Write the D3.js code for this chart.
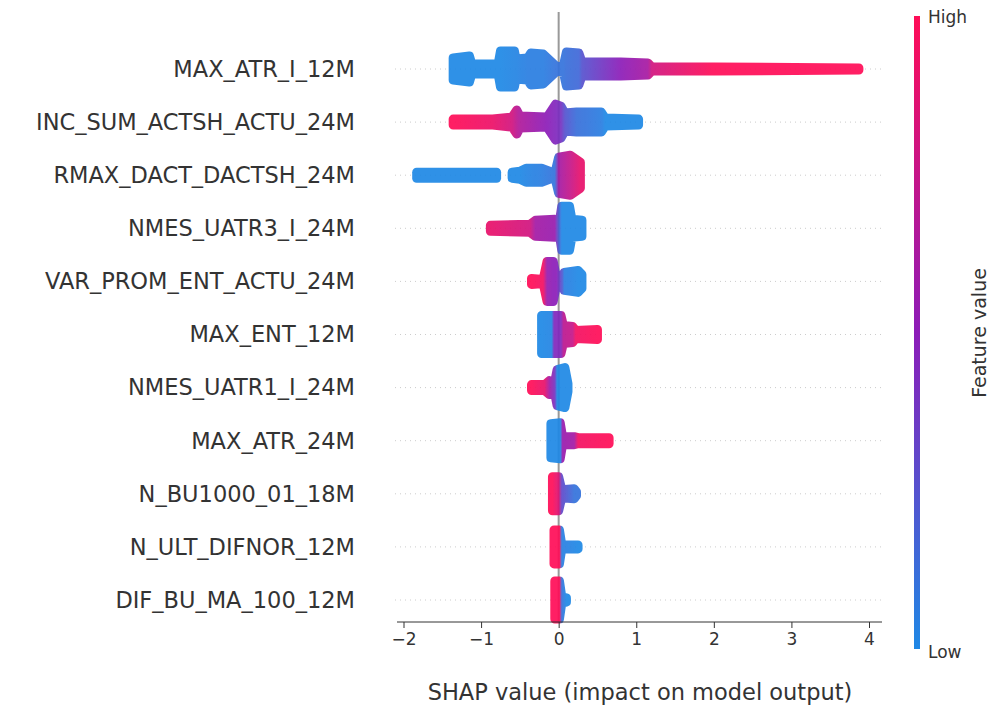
<!DOCTYPE html>
<html><head><meta charset="utf-8">
<script src="https://cdn.jsdelivr.net/npm/d3@7"></script>
<style>body{margin:0;background:#fff;font-family:"DejaVu Sans",sans-serif}</style>
</head><body><div id="chart"></div>
<script>
// features, top to bottom
var features = ["MAX_ATR_I_12M","INC_SUM_ACTSH_ACTU_24M","RMAX_DACT_DACTSH_24M","NMES_UATR3_I_24M",
  "VAR_PROM_ENT_ACTU_24M","MAX_ENT_12M","NMES_UATR1_I_24M","MAX_ATR_24M","N_BU1000_01_18M",
  "N_ULT_DIFNOR_12M","DIF_BU_MA_100_12M"];
// swarm envelopes per feature: pieces of [shap value, spread, feature value 0..1]
var swarms = [
  [[[-1.36,11,0],[-1.15,13,0],[-1.12,5,0],[-0.78,5,0],[-0.75,18,0],[-0.57,18,0.02],[-0.55,10,0.02],[-0.4,11,0.05],[-0.36,16,0.05],[-0.2,15,0.05],[-0.02,2,0.1],
    [0.06,3,0.1],[0.1,17,0.12],[0.26,16,0.15],[0.3,7,0.25],[0.8,7,0.5],[1.15,6,0.62],[1.2,2,0.8],[2.0,2,1],[3.87,1,1]]],
  [[[-1.36,3,1],[-0.85,3,0.92],[-0.6,5,0.8],[-0.54,12,0.7],[-0.5,6,0.65],[-0.15,5,0.5],[-0.04,18,0.45],[0.03,16,0.4],[0.08,9,0.25],[0.23,10,0.12],[0.55,10,0.05],[0.6,4,0],[1.03,3,0]]],
  [[[-1.83,3,0],[-0.8,3,0]],
   [[-0.6,3,0],[-0.5,4,0],[-0.42,7,0.02],[-0.22,7,0.05],[-0.05,2,0.1],[0.0,18,0.6],[0.15,20,0.75],[0.28,13,0.9]]],
  [[[-0.88,3,0.9],[-0.37,4,0.8],[-0.3,8,0.6],[-0.05,9,0.55],[0.0,2,0.2],[0.04,22,0],[0.14,22,0],[0.17,9,0],[0.3,8,0]]],
  [[[-0.35,3,1],[-0.2,2,0.95],[-0.15,20,0.55],[-0.07,20,0.5],[-0.03,4,0.5],[0.05,4,0.2],[0.07,9,0.05],[0.25,11,0],[0.3,7,0]]],
  [[[-0.22,19,0],[-0.09,19,0.02],[-0.06,19,0.45],[0.03,19,0.45],[0.06,9,0.7],[0.18,8,0.75],[0.22,4,0.95],[0.5,5,1]]],
  [[[-0.35,3,1],[-0.18,3,0.9],[-0.12,7,0.6],[-0.05,6,0.4],[-0.02,18,0],[0.08,20,0],[0.12,4,0]]],
  [[[-0.1,17,0],[0.02,18,0],[0.05,4,0.55],[0.2,4,0.6],[0.25,3,0.95],[0.65,3,1]]],
  [[[-0.08,17,1],[0.0,17,0.85],[0.04,4,0.3],[0.2,5,0.1],[0.23,2,0.1]]],
  [[[-0.06,17,1],[0.01,17,1],[0.04,2,0.05],[0.25,2,0]]],
  [[[-0.05,19,1],[0.01,19,1],[0.04,3,0.1],[0.1,2,0]]]
];
var xTicks = [-2,-1,0,1,2,3,4];

var width = 998, height = 725;
var svg = d3.select("#chart").append("svg").attr("width", width).attr("height", height);
var defs = svg.append("defs");

var x = d3.scaleLinear().domain([-2, 4]).range([403.5, 869]);
var y = d3.scalePoint().domain(features).range([69, 600]);
var color = d3.scaleLinear().domain([0, 0.5, 1]).range(["#1e88e5", "#8c1cb8", "#ff0d57"]).interpolate(d3.interpolateRgb);

// grid lines
svg.selectAll("line.grid").data(features).enter().append("line")
  .attr("x1", 395).attr("x2", 882).attr("y1", d => y(d)).attr("y2", d => y(d))
  .attr("stroke", "#ccc").attr("stroke-dasharray", "1,4");

// zero line
svg.append("line").attr("x1", x(0)).attr("x2", x(0)).attr("y1", 12).attr("y2", 622)
  .attr("stroke", "#999").attr("stroke-width", 2);

// swarms
var area = d3.area().curve(d3.curveLinear)
  .x(d => x(d[0])).y0(d => -d[1]).y1(d => d[1]);
var gid = 0;
features.forEach(function (f, i) {
  var g = svg.append("g").attr("transform", "translate(0," + y(f) + ")");
  swarms[i].forEach(function (piece) {
    var id = "grad" + (gid++);
    var x0 = x(piece[0][0]), x1 = x(piece[piece.length - 1][0]);
    var grad = defs.append("linearGradient").attr("id", id)
      .attr("gradientUnits", "userSpaceOnUse").attr("x1", x0).attr("x2", x1).attr("y1", 0).attr("y2", 0);
    grad.selectAll("stop").data(piece).enter().append("stop")
      .attr("offset", d => (x(d[0]) - x0) / (x1 - x0))
      .attr("stop-color", d => color(d[2]));
    g.append("path").attr("d", area(piece))
      .attr("fill", "url(#" + id + ")").attr("stroke", "url(#" + id + ")")
      .attr("stroke-width", 9).attr("stroke-linejoin", "round").attr("opacity", 0.92);
  });
});

// feature labels
svg.selectAll("text.label").data(features).enter().append("text")
  .attr("x", 355).attr("y", d => y(d)).attr("dy", "0.35em")
  .attr("text-anchor", "end").attr("font-size", 22.5).attr("fill", "#333").text(d => d);

// x axis
var axis = svg.append("g").attr("transform", "translate(0,622)")
  .call(d3.axisBottom(x).tickValues(xTicks).tickSize(6).tickPadding(5).tickFormat(d => d < 0 ? "\u2212" + (-d) : d));
axis.select(".domain").attr("d", "M397,0H882").attr("stroke", "#333");
axis.selectAll(".tick line").attr("stroke", "#333");
axis.selectAll(".tick text").attr("font-size", 17).attr("fill", "#333").attr("font-family", "DejaVu Sans");
svg.append("text").attr("x", 640).attr("y", 700).attr("text-anchor", "middle")
  .attr("font-size", 22.5).attr("fill", "#333").text("SHAP value (impact on model output)");

// colour bar
var cb = defs.append("linearGradient").attr("id", "cbar").attr("x1", 0).attr("x2", 0).attr("y1", 1).attr("y2", 0);
cb.selectAll("stop").data([0, 0.5, 1]).enter().append("stop")
  .attr("offset", d => d).attr("stop-color", d => color(d));
svg.append("rect").attr("x", 914).attr("y", 16).attr("width", 6).attr("height", 633).attr("fill", "url(#cbar)");
svg.append("text").attr("x", 928).attr("y", 23).attr("font-size", 17).attr("fill", "#333").text("High");
svg.append("text").attr("x", 928).attr("y", 658).attr("font-size", 17).attr("fill", "#333").text("Low");
svg.append("text").attr("transform", "translate(986,333) rotate(-90)").attr("text-anchor", "middle")
  .attr("font-size", 19).attr("fill", "#333").text("Feature value");
</script></body></html>
